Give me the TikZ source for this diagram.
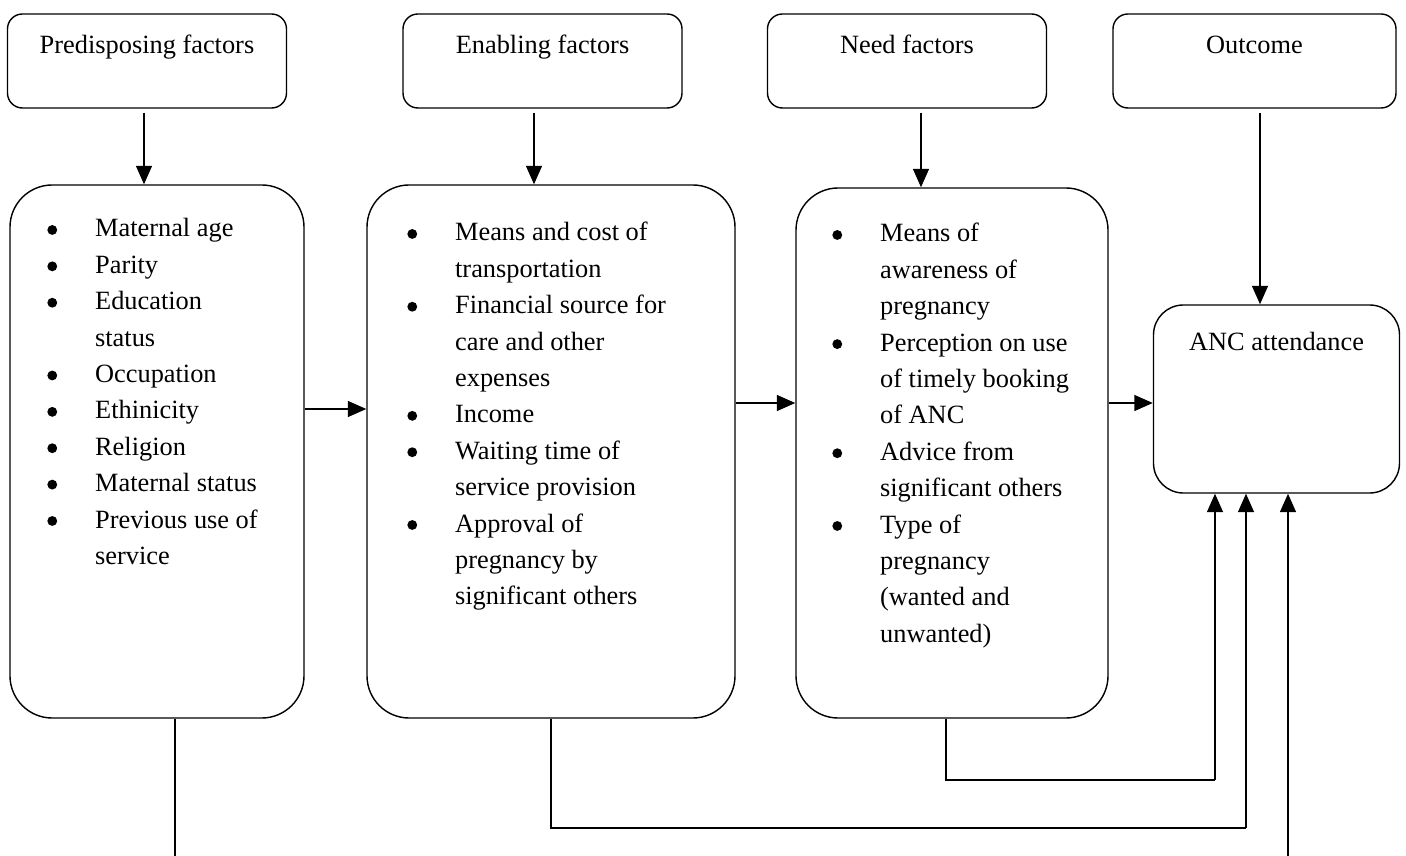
\documentclass[tikz,border=0pt]{standalone}
\usepackage{fontspec,array}
\setmainfont{Liberation Serif}
\usetikzlibrary{arrows.meta}
\newcommand{\bul}{\tikz[baseline=0pt, x=1pt, y=1pt]\fill (2.8,4) circle (2.8);}

\begin{document}
\begin{tikzpicture}[x=0.2mm, y=-0.2mm,
    font=\fontsize{15pt}{20.7pt}\selectfont,
    headbox/.style={draw, line width=0.8pt, rounded corners=8.5pt, inner sep=0pt,
        minimum width=55.8mm, minimum height=18.8mm, text height=10pt, text depth=18pt},
    factorbox/.style={draw, line width=0.8pt, rounded corners=24pt, minimum height=106.6mm},
    itemlist/.style={anchor=base west, inner sep=0pt},
    arr/.style={-{Triangle[length=10.5pt,width=9pt]}, line width=1.1pt},
    link/.style={line width=0.9pt}]
    \useasboundingbox (0,0) rectangle (1406,856);
    % headings
    \node[headbox] (tPre) at (147,61) {Predisposing factors};
    \node[headbox] (tEna) at (542.5,61) {Enabling factors};
    \node[headbox] (tNee) at (907,61) {Need factors};
    \node[headbox, minimum width=56.6mm] (tOut) at (1254.5,61) {Outcome};
    % factor boxes
    \node[factorbox, minimum width=58.8mm] (bPre) at (157,451.5) {};
    \node[factorbox, minimum width=73.6mm] (bEna) at (551,451.5) {};
    \node[factorbox, minimum width=62.4mm, minimum height=106mm] (bNee) at (952,453) {};
    \node[draw, line width=0.8pt, rounded corners=17pt, inner sep=0pt, minimum width=49.2mm,
        minimum height=37.6mm, text height=10pt, text depth=65pt] (anc) at (1276.5,399) {ANC attendance};
    % lists
    \node[itemlist] (lPre) at (47,237) {\begin{tabular}[t]{@{}p{27.2pt}@{}l@{}}
        \bul & Maternal age\\
        \bul & Parity\\
        \bul & Education\\
             & status\\
        \bul & Occupation\\
        \bul & Ethinicity\\
        \bul & Religion\\
        \bul & Maternal status\\
        \bul & Previous use of\\
             & service
    \end{tabular}};
    \node[itemlist] (lEna) at (407,241) {\begin{tabular}[t]{@{}p{27.2pt}@{}l@{}}
        \bul & Means and cost of\\
             & transportation\\
        \bul & Financial source for\\
             & care and other\\
             & expenses\\
        \bul & Income\\
        \bul & Waiting time of\\
             & service provision\\
        \bul & Approval of\\
             & pregnancy by\\
             & significant others
    \end{tabular}};
    \node[itemlist] (lNee) at (832,242) {\begin{tabular}[t]{@{}p{27.2pt}@{}l@{}}
        \bul & Means of\\
             & awareness of\\
             & pregnancy\\
        \bul & Perception on use\\
             & of timely booking\\
             & of ANC\\
        \bul & Advice from\\
             & significant others\\
        \bul & Type of\\
             & pregnancy\\
             & (wanted and\\
             & unwanted)
    \end{tabular}};
    % arrows from headings
    \foreach \src/\dst/\dx in {tPre/bPre/-0.6, tEna/bEna/-1.7, tNee/bNee/2.8, tOut/anc/1.1} {
        \path ([xshift=\dx mm]\src.south) coordinate (s);
        \draw[arr, shorten <=0.8mm] (s) -- (s |- \dst.north);
    }
    % arrows across
    \path ([yshift=8.5mm]bPre.east) coordinate (h1);
    \draw[arr] (h1) -- (h1 -| bEna.west);
    \path ([yshift=9.7mm]bEna.east) coordinate (h2);
    \draw[arr] (h2) -- (h2 -| bNee.west);
    \path ([yshift=10mm]bNee.east) coordinate (h3);
    \draw[arr] (h3) -- (h3 -| anc.west);
    % links under the boxes
    \coordinate (floor) at (0,856);
    \coordinate (lowN) at (0,780);
    \coordinate (lowE) at (0,828);
    \path ([xshift=-12.3mm]anc.south) coordinate (in1);
    \path ([xshift=-6.1mm]anc.south) coordinate (in2);
    \path ([xshift=2.3mm]anc.south) coordinate (in3);
    \path ([xshift=3.6mm]bPre.south) coordinate (p0);
    \path ([xshift=-1.2mm]bNee.south) coordinate (n0);
    \draw[link] (p0) -- (p0 |- floor);
    \draw[link] (bEna.south) |- (in2 |- lowE);
    \draw[arr] (in2 |- lowE) -- (in2);
    \draw[link] (n0) |- (in1 |- lowN);
    \draw[arr] (in1 |- lowN) -- (in1);
    \draw[arr] (in3 |- floor) -- (in3);
\end{tikzpicture}
\end{document}
